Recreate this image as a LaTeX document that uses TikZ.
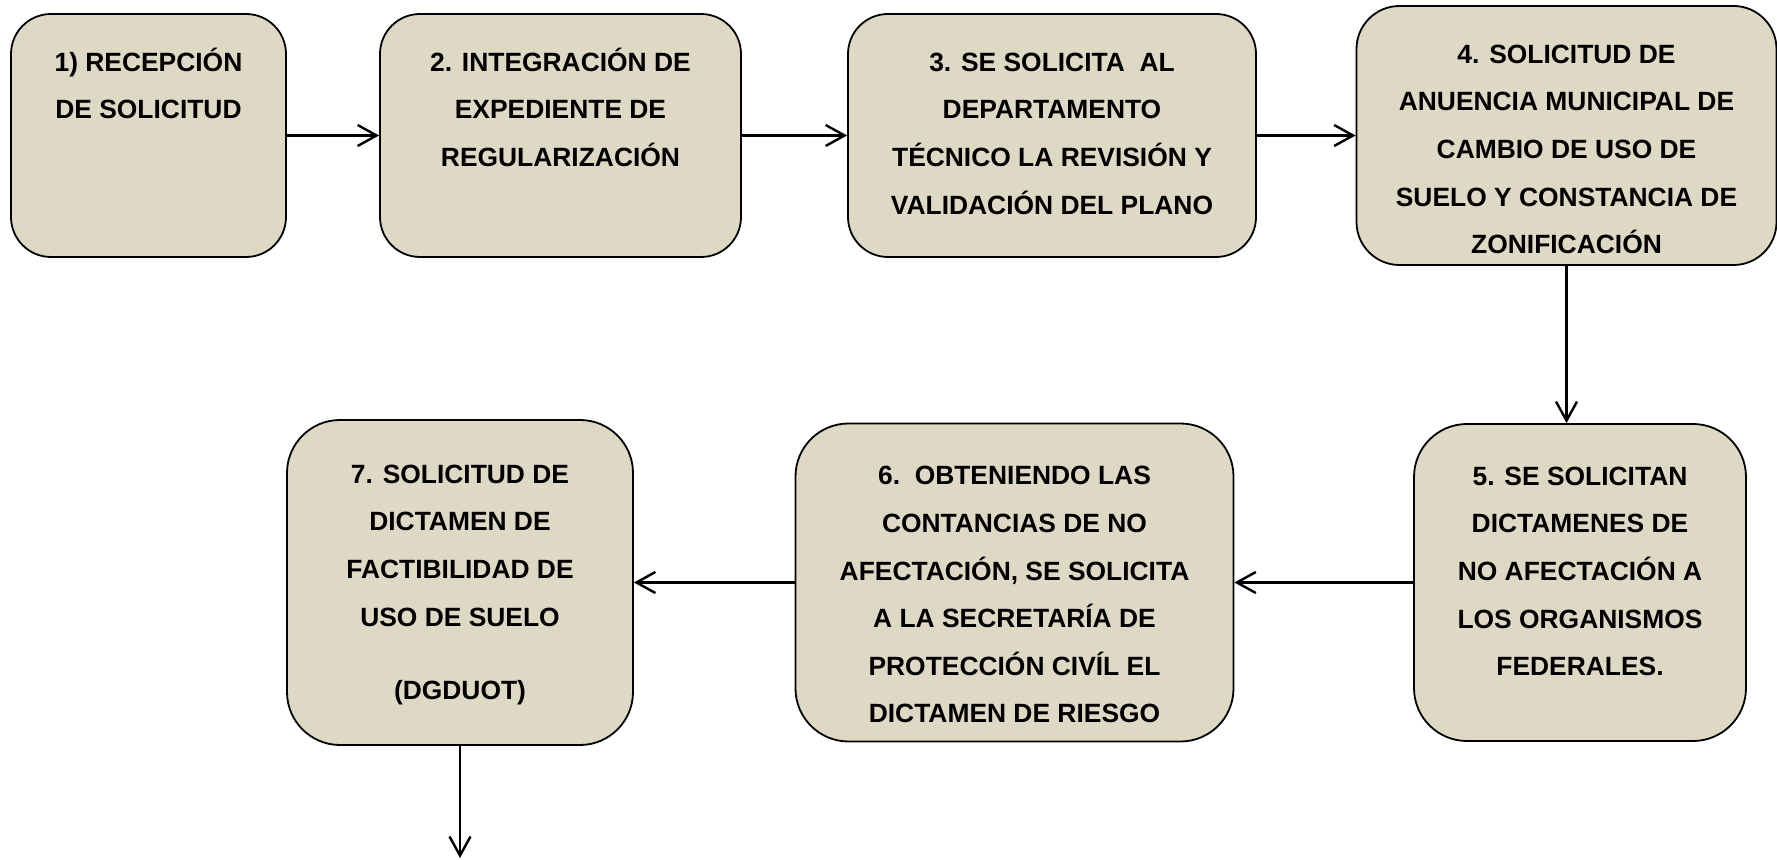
\documentclass[tikz,border=0pt]{standalone}
\usepackage{fontspec}
\setmainfont{Liberation Sans}
\usetikzlibrary{%
    arrows.meta,
    positioning
}
\definecolor{boxfill}{HTML}{DDD9C4}
\newcommand{\stepfont}{\fontsize{13.2}{23.8}\selectfont\bfseries}
\newcommand{\steptext}[4]{\parbox[c][#2][t]{#1}{\centering\vspace*{#3}\strut #4}}
\tikzset{headarrow/.style = {-{Straight Barb[length=9.5pt,width=10.5pt]}, line width=1.2pt}}
\tikzset{stepbox/.style = {draw, line width=0.9pt, fill=boxfill, inner sep=0pt, font=\stepfont}}

\begin{document}
\begin{tikzpicture}[x=0.5pt, y=-0.5pt]
    \useasboundingbox (0,0) rectangle (1777,860);

    % upper row
    \node[stepbox, rounded corners=20pt] (recepcion) at (148.5,135.5)
        {\steptext{137.5pt}{121.5pt}{12pt}{1) RECEPCIÓN\\DE SOLICITUD}};
    \node[stepbox, rounded corners=20pt] (integracion) at (560.5,135.5)
        {\steptext{180.5pt}{121.5pt}{12pt}{2. INTEGRACIÓN DE\\EXPEDIENTE DE\\REGULARIZACIÓN}};
    \node[stepbox, rounded corners=20pt] (revision) at (1052,135.5)
        {\steptext{204pt}{121.5pt}{12pt}{3. SE SOLICITA\ \ AL\\DEPARTAMENTO\\TÉCNICO LA REVISIÓN Y\\VALIDACIÓN DEL PLANO}};
    \node[stepbox, rounded corners=21.5pt] (anuencia) at (1566.5,135.5)
        {\steptext{210pt}{129.5pt}{12pt}{4. SOLICITUD DE\\ANUENCIA MUNICIPAL DE\\CAMBIO DE USO DE\\SUELO Y CONSTANCIA DE\\ZONIFICACIÓN}};

    % lower row
    \node[stepbox, rounded corners=26.5pt] (dictamenes) at (1580,582.5)
        {\steptext{166pt}{158.5pt}{14pt}{5. SE SOLICITAN\\DICTAMENES DE\\NO AFECTACIÓN A\\LOS ORGANISMOS\\FEDERALES.}};
    \node[stepbox, rounded corners=26.5pt] (riesgo) at (1014.5,582.5)
        {\steptext{219pt}{159pt}{14pt}{6.\ \ OBTENIENDO LAS\\CONTANCIAS DE NO\\AFECTACIÓN, SE SOLICITA\\A LA SECRETARÍA DE\\PROTECCIÓN CIVÍL EL\\DICTAMEN DE RIESGO}};
    \node[stepbox, rounded corners=26.5pt] (factibilidad) at (460,582.5)
        {\steptext{173pt}{162.5pt}{15pt}{7. SOLICITUD DE\\DICTAMEN DE\\FACTIBILIDAD DE\\USO DE SUELO\\[13pt](DGDUOT)}};
    \coordinate (salida) at (460,858);

    \foreach \x [remember=\x as \lastx (initially recepcion)] in {integracion,revision,anuencia}
        \draw[headarrow] (\lastx) -- (\x);
    \draw[headarrow] (anuencia.south) -- (anuencia.south |- dictamenes.north);
    \draw[headarrow] (dictamenes) -- (riesgo);
    \draw[headarrow] (riesgo) -- (factibilidad);
    \draw[headarrow] (factibilidad) -- (salida);
\end{tikzpicture}
\end{document}
